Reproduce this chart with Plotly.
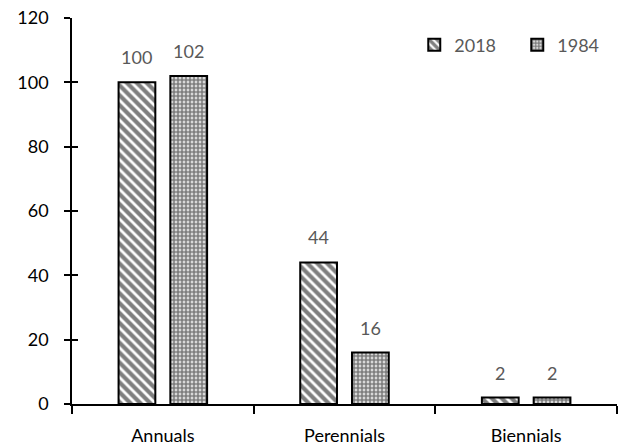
import plotly.graph_objects as go

# Plant life-form counts by survey year
categories = ["Annuals", "Perennials", "Biennials"]
years = ["2018", "1984"]
values_2018 = [100, 44, 2]
values_1984 = [102, 16, 2]
y_ticks = [0, 20, 40, 60, 80, 100, 120]

FONT = "Lato"
FS = 18
LABEL_GREY = "#595959"

patterns = {
    "2018": dict(shape="\\", fgcolor="black", bgcolor="white", size=7, solidity=0.6),
    "1984": dict(shape=".", fgcolor="black", bgcolor="white", size=4, solidity=0.75),
}
series = {"2018": values_2018, "1984": values_1984}

fig = go.Figure()
for yr in years:
    fig.add_trace(go.Bar(
        name=yr, x=categories, y=series[yr],
        marker=dict(color="white", pattern=patterns[yr],
                    line=dict(color="black", width=2)),
    ))

# value labels above each bar
offsets = {"2018": -26, "1984": 26}
for yr in years:
    for cat, v in zip(categories, series[yr]):
        fig.add_annotation(x=cat, y=v, text=str(v), showarrow=False,
                           xshift=offsets[yr], yshift=25,
                           font=dict(family=FONT, size=FS, color=LABEL_GREY))

fig.update_layout(
    width=625, height=447,
    margin=dict(l=72, r=5, t=18, b=43),
    paper_bgcolor="white", plot_bgcolor="white",
    barmode="group", bargap=0.43, bargroupgap=0.29,
    font=dict(family=FONT, size=FS, color="black"),
    showlegend=True,
    legend=dict(orientation="h", x=0.628, y=0.93, xanchor="left", yanchor="middle",
                font=dict(family=FONT, size=FS, color=LABEL_GREY),
                bgcolor="rgba(0,0,0,0)", itemwidth=30, traceorder="normal",
                entrywidth=58, entrywidthmode="pixels"),
    xaxis=dict(showline=True, linecolor="black", linewidth=1.5,
               ticks="outside", ticklen=8, tickcolor="black", tickwidth=1.5,
               tickson="boundaries", showgrid=False, zeroline=False,
               ticklabelstandoff=15, automargin=False,
               tickfont=dict(family=FONT, size=FS, color="black")),
    yaxis=dict(range=[0, 120], tickvals=y_ticks, showline=True, linecolor="black",
               linewidth=1.5, ticks="outside", ticklen=6, tickcolor="black",
               tickwidth=1.5, showgrid=False, zeroline=False, ticklabelstandoff=12,
               automargin=False,
               tickfont=dict(family=FONT, size=FS, color="black")),
    yaxis2=dict(range=[0, 120], tickvals=y_ticks, overlaying="y", side="left",
                ticks="inside", ticklen=6, tickcolor="black", tickwidth=1.5,
                showticklabels=False, showgrid=False, zeroline=False, showline=False,
                automargin=False),
)
# invisible trace to activate the overlay axis carrying the inner tick halves
fig.add_trace(go.Scatter(x=[categories[0]], y=[0], yaxis="y2", mode="markers",
                         marker=dict(opacity=0), showlegend=False, hoverinfo="skip"))

fig.write_html("out.html")
